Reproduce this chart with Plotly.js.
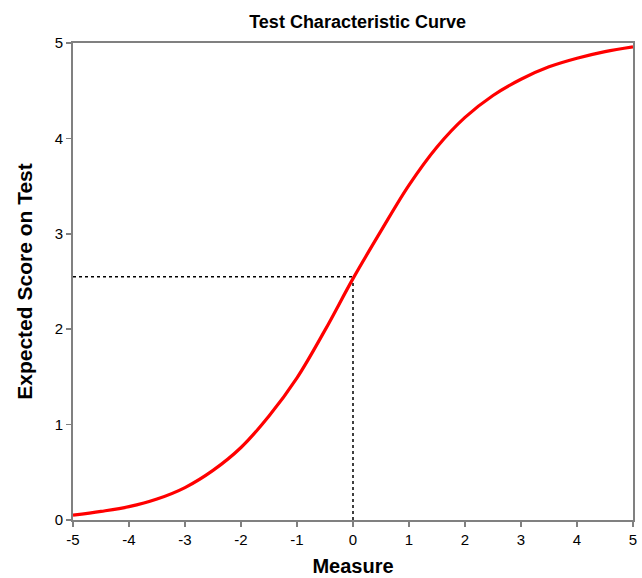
<!DOCTYPE html>
<html>
<head>
<meta charset="utf-8">
<script src="https://cdn.plot.ly/plotly-3.0.1.min.js"></script>
<style>html,body{margin:0;padding:0;background:#fff;}#chart{width:642px;height:578px;}</style>
</head>
<body>
<div id="chart"></div>
<script>
const measure = [-5, -4.5, -4, -3.5, -3, -2.5, -2, -1.5, -1, -0.5, 0, 0.5, 1, 1.5, 2, 2.5, 3, 3.5, 4, 4.5, 5];
const expectedScore = [0.05, 0.09, 0.14, 0.22, 0.34, 0.52, 0.76, 1.09, 1.49, 1.99, 2.53, 3.03, 3.51, 3.91, 4.22, 4.45, 4.62, 4.75, 4.84, 4.91, 4.96];
const refMeasure = 0;
const refScore = 2.55;
const xTicks = [-5, -4, -3, -2, -1, 0, 1, 2, 3, 4, 5];
const yTicks = [0, 1, 2, 3, 4, 5];

const traces = [
  {x: [-5, refMeasure], y: [refScore, refScore], mode: 'lines', line: {color: '#000', width: 1.5, dash: 'dot'}, hoverinfo: 'skip'},
  {x: [refMeasure, refMeasure], y: [0, refScore], mode: 'lines', line: {color: '#000', width: 1.5, dash: 'dot'}, hoverinfo: 'skip'},
  {x: measure, y: expectedScore, mode: 'lines', line: {color: '#ff0000', width: 3.2, shape: 'spline', smoothing: 1}}
];

const layout = {
  width: 642, height: 578,
  margin: {l: 73, r: 9, t: 43, b: 58},
  showlegend: false,
  paper_bgcolor: '#fff', plot_bgcolor: '#fff',
  font: {family: 'Liberation Sans, Arial, sans-serif', color: '#000'},
  title: {text: '<b>Test Characteristic Curve</b>', x: 0.557, xanchor: 'center', y: 0.962, yanchor: 'middle', font: {size: 18}},
  xaxis: {
    range: [-5, 5], tickvals: xTicks, ticktext: xTicks.map(String),
    showgrid: false, zeroline: false, showline: true, mirror: true, linecolor: '#808080', linewidth: 2,
    ticks: 'outside', ticklen: 5, tickcolor: '#808080', tickwidth: 1.5,
    tickfont: {size: 15},
    title: {text: '<b>Measure</b>', font: {size: 20}, standoff: 12}
  },
  yaxis: {
    range: [0, 5], tickvals: yTicks, ticktext: yTicks.map(String),
    showgrid: false, zeroline: false, showline: true, mirror: true, linecolor: '#808080', linewidth: 2,
    ticks: 'outside', ticklen: 5, tickcolor: '#808080', tickwidth: 1.5,
    tickfont: {size: 15},
    title: {text: '<b>Expected Score on Test</b>', font: {size: 21}, standoff: 16}
  }
};

Plotly.newPlot('chart', traces, layout, {displayModeBar: false, staticPlot: true});
</script>
</body>
</html>
